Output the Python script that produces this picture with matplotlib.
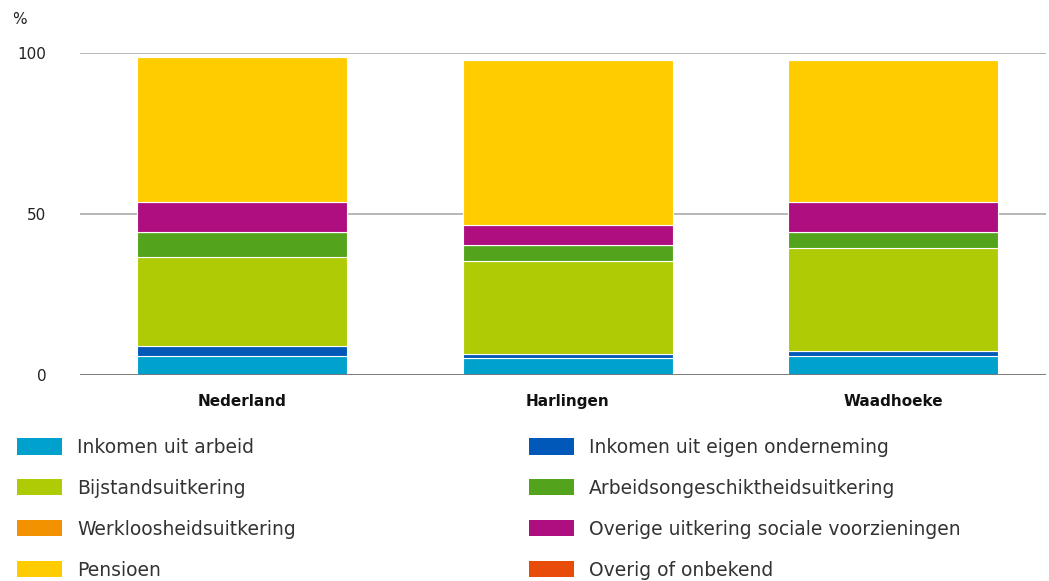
import matplotlib.pyplot as plt
import numpy as np
from matplotlib.patches import Patch


regions = ["Nederland", "Harlingen", "Waadhoeke"]

# stack order, bottom to top
series = [
    "Inkomen uit arbeid",
    "Inkomen uit eigen onderneming",
    "Bijstandsuitkering",
    "Arbeidsongeschiktheidsuitkering",
    "Werkloosheidsuitkering",
    "Overige uitkering sociale voorzieningen",
    "Pensioen",
    "Overig of onbekend",
]
arbeid = [6.0, 5.4, 6.0]
onderneming = [3.0, 1.1, 1.5]
bijstand = [27.5, 28.9, 31.8]
arbeidsongeschikt = [7.8, 5.1, 5.0]
werkloos = [0.0, 0.0, 0.0]
overige_uitkering = [9.3, 6.1, 9.3]
pensioen = [45.2, 51.2, 44.2]
overig = [0.0, 0.0, 0.0]

values = [arbeid, onderneming, bijstand, arbeidsongeschikt, werkloos,
          overige_uitkering, pensioen, overig]
colors = ["#00a1cd", "#0058b8", "#afcb05", "#53a31d", "#f39200",
          "#af0e80", "#ffcc00", "#e94c0a"]

plt.rcParams["font.family"] = ["DejaVu Sans"]

fig = plt.figure(figsize=(10.49, 5.81), dpi=100)
ax = fig.add_axes([0.076, 0.3546, 0.921, 0.5542])

x = np.arange(len(regions))
bottom = np.zeros(len(regions))
for vals, col in zip(values, colors):
    ax.bar(x, vals, bottom=bottom, width=0.646, color=col,
           edgecolor="white", linewidth=0.8, zorder=3)
    bottom += np.array(vals)

ax.set_xlim(-0.5, 2.47)
ax.set_ylim(0, 100)
ax.set_yticks([0, 50, 100])
ax.set_yticklabels(["0", "50", "100"], fontsize=11, color="#222222")
ax.yaxis.grid(True, color="#aaaaaa", linewidth=1.2, zorder=0)
ax.axhline(0, color="#777777", linewidth=2, zorder=4)
for s in ax.spines.values():
    s.set_visible(False)
ax.tick_params(axis="y", length=0, pad=24)
ax.tick_params(axis="x", length=0, pad=14)
ax.set_xticks(x)
ax.set_xticklabels(regions, fontsize=11, fontweight="bold", color="#111111")

fig.text(12 / 1049, 1 - 20 / 581, "%", fontsize=11, color="#222222",
         va="center", ha="left")

handles = [Patch(facecolor=c, edgecolor="none") for c in colors]
left_idx = [0, 2, 4, 6]
right_idx = [1, 3, 5, 7]
for idx, xpos in [(left_idx, 0 / 1049), (right_idx, 512 / 1049)]:
    fig.legend([handles[i] for i in idx], [series[i] for i in idx],
               loc="upper left", bbox_to_anchor=(xpos, 1 - 421 / 581),
               frameon=False, ncol=1, fontsize=13.5, handlelength=2.4,
               handleheight=0.95, handletextpad=0.8, labelspacing=1.17,
               labelcolor="#333333")

fig.savefig("out.png", dpi=100)
